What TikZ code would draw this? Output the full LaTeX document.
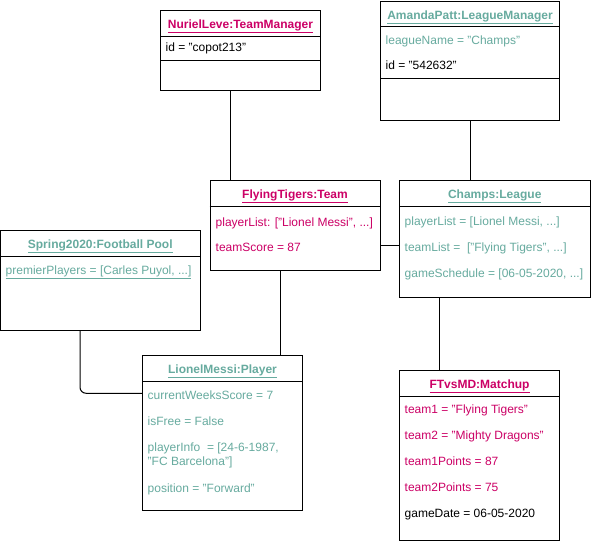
\documentclass[tikz,border=0pt]{standalone}
\usepackage{fontspec}
\setmainfont{Liberation Sans}
\usetikzlibrary{positioning, calc}
\definecolor{objpink}{HTML}{CC0066}
\definecolor{objgreen}{HTML}{67AB9F}
\tikzset{
  obj/.style={rectangle, draw=black, line width=1pt, inner sep=0pt},
  head/.style={anchor=base, inner sep=0pt, font=\fontsize{12}{14}\selectfont\bfseries},
  attr/.style={anchor=base west, inner sep=0pt, font=\fontsize{12}{14}\selectfont},
  sep/.style={draw=black, line width=1pt},
  link/.style={draw=black, line width=1pt},
}
\newcommand{\objname}[1]{\underline{#1}}

\begin{document}
\begin{tikzpicture}[x=1pt, y=-1pt]
  \fill[white] (0,0) rectangle (591,541);
  \useasboundingbox (0,0) rectangle (591,541);
  % object boxes
  \node[obj, minimum width=160pt, minimum height=80pt] (mgr) at (240.5,50) {};
  \node[obj, minimum width=179pt, minimum height=119pt] (lmgr) at (470,60.5) {};
  \node[obj, minimum width=170pt, minimum height=90pt] (team) at (295,225) {};
  \node[obj, minimum width=190.5pt, minimum height=117pt] (league) at (494.75,239) {};
  \node[obj, minimum width=199.5pt, minimum height=100pt] (pool) at (100.25,280) {};
  \node[obj, minimum width=160pt, minimum height=154.5pt] (player) at (222.5,432.75) {};
  \node[obj, minimum width=160pt, minimum height=170pt] (match) at (479.5,455) {};
  % compartments
  \draw[sep] (mgr.west |- 0,36) -- (mgr.east |- 0,36);
  \draw[sep] (mgr.west |- 0,60) -- (mgr.east |- 0,60);
  \draw[sep] (lmgr.west |- 0,26) -- (lmgr.east |- 0,26);
  \draw[sep] (lmgr.west |- 0,78) -- (lmgr.east |- 0,78);
  \draw[sep] (team.west |- 0,206) -- (team.east |- 0,206);
  \draw[sep] (league.west |- 0,206) -- (league.east |- 0,206);
  \draw[sep] (pool.west |- 0,256) -- (pool.east |- 0,256);
  \draw[sep] (player.west |- 0,381.5) -- (player.east |- 0,381.5);
  \draw[sep] (match.west |- 0,396) -- (match.east |- 0,396);
  % names
  \node[head, text=objpink] (mgrh) at (240.5,28.5) {\objname{NurielLeve:TeamManager}};
  \node[head, text=objgreen] (lmgrh) at (470,19.5) {\objname{AmandaPatt:LeagueManager}};
  \node[head, text=objpink] (teamh) at (295,198.5) {\objname{FlyingTigers:Team}};
  \node[head, text=objgreen] (leagueh) at (494.75,198.5) {\objname{Champs:League}};
  \node[head, text=objgreen] (poolh) at (100.25,248.5) {\objname{Spring2020:Football Pool}};
  \node[head, text=objgreen] (playerh) at (222.5,373) {\objname{LionelMessi:Player}};
  \node[head, text=objpink] (matchh) at (479.5,388.5) {\objname{FTvsMD:Matchup}};
  % attributes
  \node[attr] (mgr1) at (165.5,51) {id = "copot213"};
  \node[attr, text=objgreen] (lmgr1) at (385.5,44) {leagueName = "Champs"};
  \node[attr] (lmgr2) at (385.5,69.5) {id = "542632"};
  \node[attr, text=objpink] (team1) at (215.5,226) {playerList: ["Lionel Messi", ...]};
  \node[attr, text=objpink] (team2) at (215.5,251.5) {teamScore = 87};
  \node[attr, text=objgreen] (league1) at (404.5,225.5) {playerList = [Lionel Messi, ...]};
  \node[attr, text=objgreen] (league2) at (404.5,251) {teamList =\ \ ["Flying Tigers", ...]};
  \node[attr, text=objgreen] (league3) at (404.5,277) {gameSchedule = [06-05-2020, ...]};
  \node[attr, text=objgreen] (pool1) at (5.5,274.5) {\underline{premierPlayers = [Carles Puyol, ...]}};
  \node[attr, text=objgreen] (player1) at (147.5,399.5) {currentWeeksScore = 7};
  \node[attr, text=objgreen] (player2) at (147.5,425.5) {isFree = False};
  \node[attr, text=objgreen] (player3) at (147.5,451.5) {playerInfo\ \ = [24-6-1987,};
  \node[attr, text=objgreen] (player4) at (147.5,465) {"FC Barcelona"]};
  \node[attr, text=objgreen] (player5) at (147.5,492) {position = "Forward"};
  \node[attr, text=objpink] (match1) at (404.5,413.5) {team1 = "Flying Tigers"};
  \node[attr, text=objpink] (match2) at (404.5,439.5) {team2 = "Mighty Dragons"};
  \node[attr, text=objpink] (match3) at (404.5,465.5) {team1Points = 87};
  \node[attr, text=objpink] (match4) at (404.5,491.5) {team2Points = 75};
  \node[attr] (match5) at (404.5,517.5) {gameDate = 06-05-2020};
  % links
  \draw[link] ([xshift=-10.5pt]mgr.south) -- ([xshift=-10.5pt]mgr.south |- team.north);
  \draw[link] (lmgr.south) -- (lmgr.south |- league.north);
  \draw[link] ([yshift=-20.3pt]team.east) -- ([yshift=-20.3pt]team.east -| league.west);
  \draw[link] ([xshift=-15pt]team.south) -- ([xshift=-15pt]team.south |- player.north);
  \draw[link] ([xshift=-55.5pt]league.south) -- ([xshift=-55.5pt]league.south |- match.north);
  \draw[link, rounded corners=6pt] ([xshift=-20.25pt]pool.south) |- ([yshift=39.5pt]player.west);
\end{tikzpicture}
\end{document}
